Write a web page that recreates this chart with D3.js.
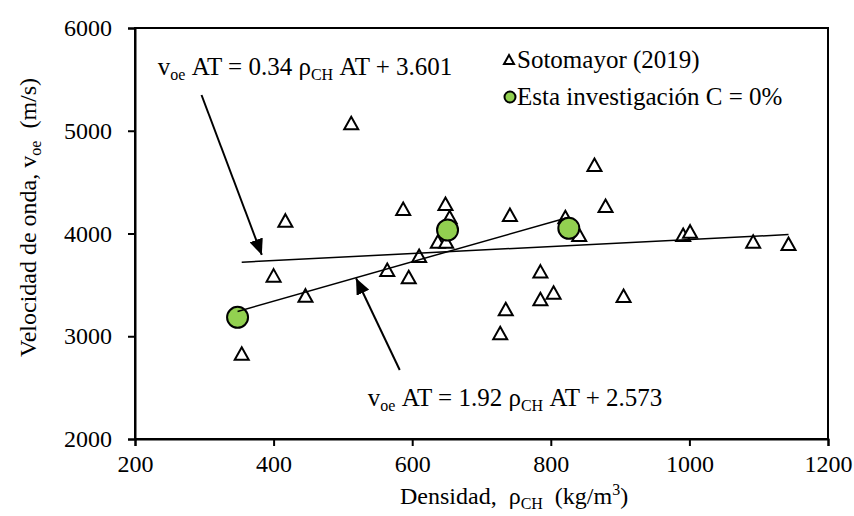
<!DOCTYPE html>
<html>
<head>
<meta charset="utf-8">
<script src="https://cdn.jsdelivr.net/npm/d3@7/dist/d3.min.js"></script>
<style>
  html, body { margin: 0; padding: 0; background: #fff; }
  svg { display: block; }
  text { font-family: "Liberation Serif", "Times New Roman", "DejaVu Serif", serif; fill: #000; }
</style>
</head>
<body>
<svg id="chart" width="854" height="516"></svg>
<script>
// ---- Data ----
const rhoSotomayor = [354, 400, 417, 446, 512, 564, 587, 595, 610, 637, 648, 649, 654, 727, 735, 741, 785, 785, 804, 821, 841, 863, 879, 905, 991, 1001, 1092, 1143];
const vSotomayor   = [2830, 3590, 4125, 3395, 5073, 3645, 4238, 3574, 3781, 3920, 4287, 3920, 4158, 3029, 3262, 4180, 3629, 3359, 3424, 4158, 3985, 4667, 4268, 3392, 3985, 4018, 3920, 3898];
const rhoEsta = [348, 651, 826];
const vEsta   = [3184, 4034, 4051];
const xTicks = [200, 400, 600, 800, 1000, 1200];
const yTicks = [2000, 3000, 4000, 5000, 6000];
// trend lines: slope, intercept, x-range
const trendSoto = {m: 0.34, b: 3601, x0: 354, x1: 1143};
const trendEsta = {m: 1.92, b: 2573, x0: 348, x1: 826};
// annotation arrows in data units [from, to]
const arrow1 = [[296, 5348], [383, 3791]];
const arrow2 = [[582, 2672], [519, 3564]];
const eqLabel1 = {rho: 233, v: 5543};
const eqLabel2 = {rho: 536, v: 2321};

// ---- Layout ----
const svg = d3.select("#chart");
const L = 135, R = 828, T = 28, B = 439;
const x = d3.scaleLinear().domain([200, 1200]).range([L, R]);
const y = d3.scaleLinear().domain([2000, 6000]).range([B, T]);
const green = "#92D050";
const FS = "24px", FL = "25px", SUB = "16px";

// frame
svg.append("rect").attr("x", L).attr("y", T).attr("width", R - L).attr("height", B - T)
  .attr("fill", "none").attr("stroke", "#000").attr("stroke-width", 2);

// axes
const xAxis = svg.append("g").attr("transform", `translate(0,${B})`)
  .call(d3.axisBottom(x).tickValues(xTicks).tickSize(7).tickPadding(9).tickFormat(d3.format("d")));
const yAxis = svg.append("g").attr("transform", `translate(${L},0)`)
  .call(d3.axisLeft(y).tickValues(yTicks).tickSize(7).tickPadding(16).tickFormat(d3.format("d")));
[xAxis, yAxis].forEach(g => {
  g.attr("font-family", null).attr("font-size", null);
  g.select(".domain").attr("stroke", "#000").attr("stroke-width", 2);
  g.selectAll(".tick line").attr("stroke", "#000").attr("stroke-width", 2);
  g.selectAll(".tick text").attr("fill", "#000").style("font-size", FS);
});

// markers: triangles
const tri = (cx, cy) => `M${cx},${cy - 6.5}L${cx + 7},${cy + 6}L${cx - 7},${cy + 6}Z`;
svg.append("g").selectAll("path").data(rhoSotomayor).join("path")
  .attr("d", (d, i) => tri(x(d), y(vSotomayor[i])))
  .attr("fill", "#fff").attr("stroke", "#000").attr("stroke-width", 2);

// circles
svg.append("g").selectAll("circle").data(rhoEsta).join("circle")
  .attr("cx", d => x(d)).attr("cy", (d, i) => y(vEsta[i])).attr("r", 10.5)
  .attr("fill", green).attr("stroke", "#000").attr("stroke-width", 2);

// trend lines
[trendSoto, trendEsta].forEach(t => {
  svg.append("line")
    .attr("x1", x(t.x0)).attr("y1", y(t.m * t.x0 + t.b))
    .attr("x2", x(t.x1)).attr("y2", y(t.m * t.x1 + t.b))
    .attr("stroke", "#000").attr("stroke-width", 1.5);
});

// arrows
svg.append("defs").append("marker").attr("id", "ah")
  .attr("viewBox", "0 0 16 14").attr("refX", 16).attr("refY", 7)
  .attr("markerWidth", 16).attr("markerHeight", 14).attr("markerUnits", "userSpaceOnUse")
  .attr("orient", "auto")
  .append("path").attr("d", "M0,0L16,7L0,14Z").attr("fill", "#000");
[arrow1, arrow2].forEach(a => {
  svg.append("line")
    .attr("x1", x(a[0][0])).attr("y1", y(a[0][1]))
    .attr("x2", x(a[1][0])).attr("y2", y(a[1][1]))
    .attr("stroke", "#000").attr("stroke-width", 2).attr("marker-end", "url(#ah)");
});

// equation labels
function eq(lbl, slope, inter) {
  const t = svg.append("text").attr("x", x(lbl.rho)).attr("y", y(lbl.v))
    .style("font-size", FL);
  t.append("tspan").text("v");
  t.append("tspan").attr("dy", 5).style("font-size", SUB).text("oe");
  t.append("tspan").attr("dy", -5).text(`\u00a0AT = ${slope} ρ`);
  t.append("tspan").attr("dy", 5).style("font-size", SUB).text("CH");
  t.append("tspan").attr("dy", -5).text(`\u00a0AT + ${inter}`);
}
eq(eqLabel1, "0.34", "3.601");
eq(eqLabel2, "1.92", "2.573");

// legend
const lg = svg.append("g");
lg.append("path").attr("d", `M509,55L514,64L504,64Z`).attr("fill", "#fff").attr("stroke", "#000").attr("stroke-width", 2);
lg.append("text").attr("x", 517).attr("y", 68).style("font-size", FL).text("Sotomayor (2019)");
lg.append("circle").attr("cx", 510).attr("cy", 97).attr("r", 5.5).attr("fill", green).attr("stroke", "#000").attr("stroke-width", 2);
lg.append("text").attr("x", 517).attr("y", 105).style("font-size", FL).text("Esta investigación C = 0%");

// axis titles
const xt = svg.append("text").attr("x", 400).attr("y", 504)
  .style("font-size", FS);
xt.append("tspan").text("Densidad,\u00a0\u00a0ρ");
xt.append("tspan").attr("dy", 5).style("font-size", SUB).text("CH");
xt.append("tspan").attr("dy", -5).text("\u00a0\u00a0(kg/m");
xt.append("tspan").attr("dy", -9).style("font-size", SUB).text("3");
xt.append("tspan").attr("dy", 9).text(")");

const yt = svg.append("text").attr("transform", `translate(36,357) rotate(-90)`)
  .style("font-size", FS);
yt.append("tspan").text("Velocidad de onda,\u00a0v");
yt.append("tspan").attr("dy", 5).style("font-size", SUB).text("oe");
yt.append("tspan").attr("dy", -5).text("\u00a0\u00a0(m/s)");
</script>
</body>
</html>
